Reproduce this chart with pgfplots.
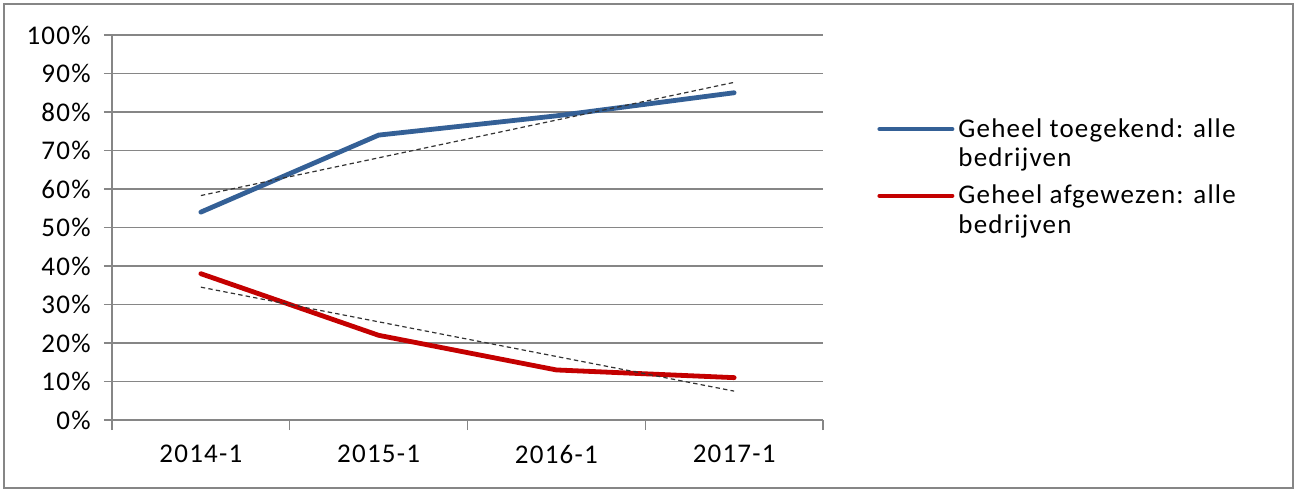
\documentclass[border=0pt]{standalone}
\usepackage{pgfplots}
\usepackage{pgfplotstable}
\pgfplotsset{compat=1.18}
\usepackage{fontspec}
\setmainfont{Carlito}[LetterSpace=4.5]
\definecolor{serblue}{RGB}{52,96,150}
\definecolor{serred}{RGB}{196,0,0}
\definecolor{axgray}{RGB}{134,134,134}
\pgfplotstableread{
x toe afw
0 54 38
1 74 22
2 79 13
3 85 11
}\datatable
\begin{document}
\begin{tikzpicture}[x=1pt,y=1pt]
\fontsize{13.5}{14.75}\selectfont
% bounding box & outer frame (1px = 0.5pt, origin at pixel (112,420))
\path (-56,210) rectangle (593.5,-36);
\draw[axgray, line width=1pt] (-54,208) rectangle (590.5,-34);
\begin{axis}[
  at={(0,0)}, anchor=south west,
  scale only axis,
  width=355.5pt, height=192.5pt,
  xmin=-0.5, xmax=3.5,
  ymin=0, ymax=100,
  axis x line*=bottom, axis y line*=left,
  axis line style={axgray, line width=0.6pt, -},
  xtick={0,1,2,3},
  xticklabels={2014-1,2015-1,2016-1,2017-1},
  major x tick style={draw=none},
  minor xtick={-0.5,0.5,1.5,2.5,3.5},
  minor x tick style={axgray, line width=0.6pt},
  minor tick length=5pt,
  ytick={0,10,...,100},
  yticklabel={\pgfmathprintnumber{\tick}\%},
  major y tick style={axgray, line width=0.6pt},
  major tick length=4pt,
  tick align=outside,
  ymajorgrids,
  major grid style={axgray, line width=0.6pt},
  /pgf/number format/assume math mode=true,
  tick label style={font=\fontsize{13.5}{14.75}\selectfont, text=black},
  xticklabel style={yshift=-4pt},
  yticklabel style={xshift=-2pt},
  clip=false,
  legend style={at={(382.5pt,154pt)}, anchor=north west, draw=none, fill=none,
    font=\fontsize{13.5}{14.75}\selectfont, row sep=17pt, inner sep=0pt,
    /tikz/every even column/.append style={column sep=5pt}},
  legend cell align=left,
  legend image code/.code={\draw[#1, line width=2pt] (0pt,-0.2pt) -- (36.5pt,-0.2pt);},
]
\addplot[serblue, line width=2.4pt, line join=round, line cap=round] table[x=x,y=toe] {\datatable};
\addlegendentry{\begin{tabular}[t]{@{}l@{}}Geheel toegekend: alle\\bedrijven\end{tabular}}
\addplot[serred, line width=2.4pt, line join=round, line cap=round] table[x=x,y=afw] {\datatable};
\addlegendentry{\begin{tabular}[t]{@{}l@{}}Geheel afgewezen: alle\\bedrijven\end{tabular}}
\addplot[black!80, line width=0.6pt, dash pattern=on 2.2pt off 1.6pt, forget plot]
  table[x=x, y={create col/linear regression={y=toe}}] {\datatable};
\addplot[black!80, line width=0.6pt, dash pattern=on 2.2pt off 1.6pt, forget plot]
  table[x=x, y={create col/linear regression={y=afw}}] {\datatable};
\end{axis}
\end{tikzpicture}
\end{document}
